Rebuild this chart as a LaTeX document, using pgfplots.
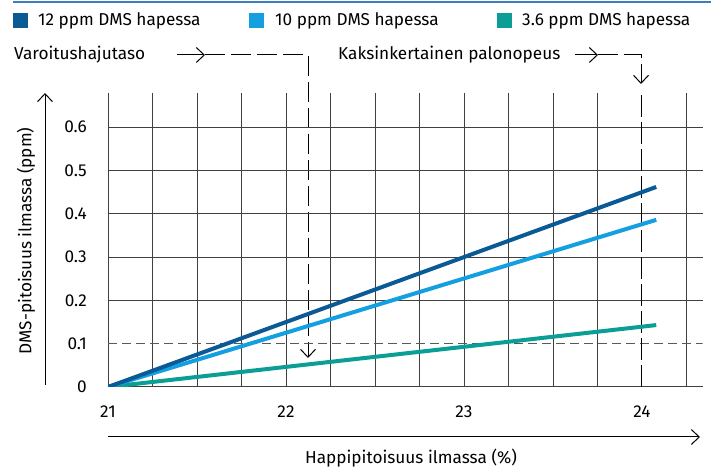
\documentclass[border=0pt]{standalone}
\usepackage{fontspec}
\setmainfont{Fira Sans}
\usepackage{pgfplots}
\pgfplotsset{compat=1.18}
\usetikzlibrary{arrows.meta}

\definecolor{c12}{HTML}{0A5A96}
\definecolor{c10}{HTML}{14A0E0}
\definecolor{c36}{HTML}{0A9E96}
\definecolor{gridc}{HTML}{404040}
\definecolor{rulec}{HTML}{3C7DC0}
\newcommand\fs{\fontsize{17.2bp}{20bp}\selectfont}

\begin{document}
\begin{tikzpicture}[x=1bp, y=1bp, font=\fs,
    barb/.style={-{Straight Barb[length=8bp,width=15bp]}, line width=1bp},
    longdash/.style={dash pattern=on 20bp off 6bp}]
\useasboundingbox (0,0) rectangle (711,470);
\coordinate (O) at (108,83);

% top rule and legend
\draw[rulec, line width=1.5bp] (13,468) -- (711,468);
\fill[c12] (13,457) rectangle (28,442);
\node[anchor=base west, inner sep=0] at (38,444) {12 ppm DMS hapessa};
\fill[c10] (249,457) rectangle (264,442);
\node[anchor=base west, inner sep=0] at (275,444) {10 ppm DMS hapessa};
\fill[c36] (497,457) rectangle (512,442);
\node[anchor=base west, inner sep=0] at (522,444) {3.6 ppm DMS hapessa};

% annotations
\node[anchor=base west, inner sep=0] at (14,410) {Varoitushajutaso};
\draw[barb] (177,415) -- (205,415);
\draw[barb, longdash] (205,415) -- (308,415) -- (308,112);
\node[anchor=base west, inner sep=0] at (338,410) {Kaksinkertainen palonopeus};
\draw[barb] (575,415) -- (598,415);
\draw[barb, longdash] (598,415) -- (641,415) -- (641,386);

% axis arrows and labels
\draw[barb] (45,85) -- (45,377);
\draw[barb] (108,33) -- (700,33);
\node[rotate=90] at (26,229) {DMS-pitoisuus ilmassa (ppm)};
\node at (411,12) {Happipitoisuus ilmassa (\%)};

\begin{axis}[
    at={(O)}, anchor=south west,
    scale only axis, width=594.5bp, height=294bp,
    xmin=21, xmax=24.34, ymin=0, ymax=0.679,
    axis line style={draw=none}, tick style={draw=none},
    xtick={21,22,23}, xticklabels={21,22,23},
    extra x ticks={24}, extra x tick labels={24}, extra x tick style={grid=none},
    minor xtick={21.25,21.5,21.75,22.25,22.5,22.75,23.25,23.5,23.75,24.25},
    ytick={0,0.2,0.3,0.4,0.5,0.6}, yticklabels={0,0.2,0.3,0.4,0.5,0.6},
    extra y ticks={0.1}, extra y tick labels={0.1}, extra y tick style={grid=none},
    grid=both,
    major grid style={gridc, line width=1bp},
    minor grid style={gridc, line width=1bp},
    tick label style={font=\fs},
    yticklabel style={anchor=east, inner sep=0pt, xshift=-21bp},
    xticklabel style={anchor=north, inner sep=0pt, yshift=-19bp},
  ]
  \draw[black!65, line width=1.1bp, dash pattern=on 9bp off 5bp] (axis cs:21,0.1) -- (axis cs:24.34,0.1);
  \draw[black, line width=1bp, dash pattern=on 22bp off 5bp] (axis cs:24,0) -- (axis cs:24,0.679);
  \addplot[c36, line width=4bp] coordinates {(21,0) (24.08,0.143)};
  \addplot[c10, line width=4bp] coordinates {(21,0) (24.08,0.386)};
  \addplot[c12, line width=4bp] coordinates {(21,0) (24.08,0.462)};
\end{axis}
\end{tikzpicture}
\end{document}
